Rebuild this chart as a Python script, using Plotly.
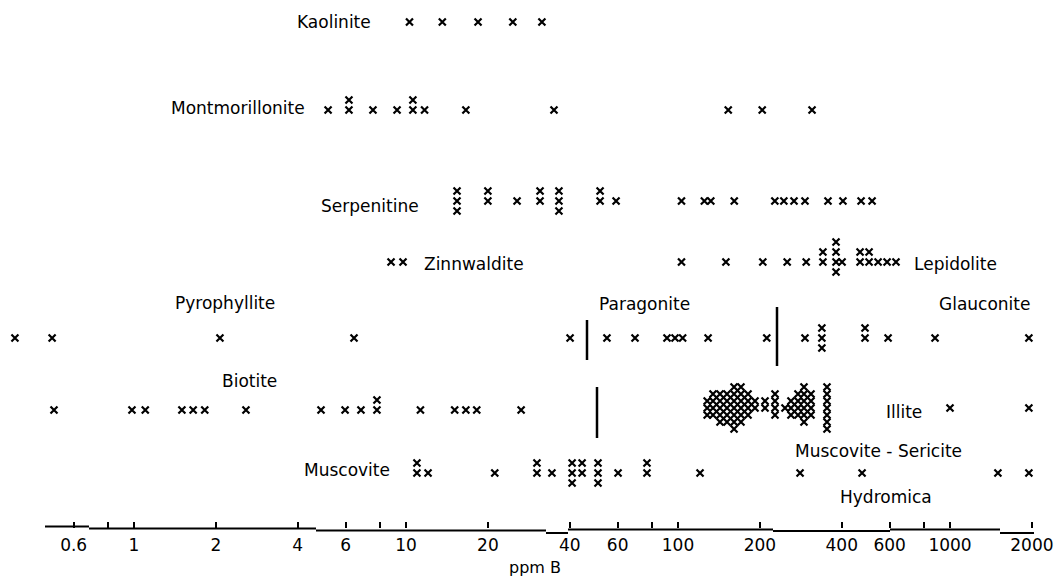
import plotly.graph_objects as go

# ---------------- data (ppm B) ----------------
kaolinite = [10.3, 13.6, 18.4, 24.7, 31.6]
montmorillonite = [5.17, 6.17, 6.17, 7.56, 9.27, 10.6, 10.6, 11.7, 16.6, 35.0, 153, 204, 311]
serpentine = [15.4, 15.4, 15.4, 20.0, 20.0, 25.6, 31.1, 31.1, 36.5, 36.5, 36.5, 51.7, 51.7,
              59.2, 103, 125, 132, 161, 227, 245, 267, 293, 356, 404, 471, 517]
zinnwaldite = [8.81, 9.75]
lepidolite = [103, 150, 205, 252, 296, 341, 341, 381, 381, 381, 381, 401, 467, 467,
              504, 504, 544, 587, 633]
pyrophyllite = [0.365, 0.50, 2.07, 6.44, 40.1]
paragonite = [54.8, 69.5, 91.1, 97.5, 104, 129, 212]
glauconite = [293, 338, 338, 338, 487, 487, 592, 881, 1950]
biotite = [0.508, 0.983, 1.10, 1.50, 1.65, 1.82, 2.58, 4.87, 5.97, 6.83, 7.82, 7.82,
           11.3, 15.1, 16.6, 18.2, 26.5]
illite = [128, 128, 128,
          134.5, 134.5, 134.5, 134.5,
          142.7, 142.7, 142.7, 142.7, 142.7,
          151.4, 151.4, 151.4, 151.4, 151.4,
          160.7, 160.7, 160.7, 160.7, 160.7, 160.7, 160.7,
          170.4, 170.4, 170.4, 170.4, 170.4, 170.4,
          180.9, 180.9, 180.9, 180.9,
          191.9, 191.9,
          208.9, 208.9,
          227.3, 227.3, 227.3, 227.3,
          247.4,
          260.2, 260.2, 260.2,
          276.1, 276.1, 276.1, 276.1,
          290.5, 290.5, 290.5, 290.5, 290.5, 290.5,
          308.3, 308.3, 308.3, 308.3,
          353, 353, 353, 353, 353, 353, 353,
          1000, 1950]
muscovite = [10.97, 10.97, 12.05, 21.2, 30.3, 30.3, 34.4, 40.8, 40.8, 40.8, 44.4, 44.4,
             50.8, 50.8, 50.8, 60.2, 76.9, 76.9, 120.5]
muscovite_sericite = [281, 475, 1500, 1950]

tick_values = [0.6, 0.8, 1, 2, 4, 6, 8, 10, 20, 40, 60, 80, 100, 200, 400, 600, 800, 1000, 2000]
tick_labels = ["0.6", "", "1", "2", "4", "6", "", "10", "20", "40", "60", "", "100", "200",
               "400", "600", "", "1000", "2000"]

# ---------------- layout (pixel based rows) ----------------
W, H = 1063, 580
PLOT_BOTTOM = 528
FONT = "DejaVu Sans"

# series -> (row base y in px from top, stack spacing px)
series = [
    (kaolinite, 22, 10),
    (montmorillonite, 110, 10),
    (serpentine, 201, 10),
    (zinnwaldite, 262, 10),
    (lepidolite, 262, 10),
    (pyrophyllite, 338, 10),
    (paragonite, 338, 10),
    (glauconite, 338, 10),
    (biotite, 410, 10),
    (illite, 408, 7),
    (muscovite, 473, 10),
    (muscovite_sericite, 473, 10),
]

STACK_ORDER = [0, -1, 1, -2, 2, -3, 3, -4, 4]

fig = go.Figure()
for values, base, spacing in series:
    seen = {}
    ys = []
    for v in values:
        k = seen.get(v, 0)
        seen[v] = k + 1
        ys.append(base + STACK_ORDER[k] * spacing)
    fig.add_trace(go.Scatter(
        x=values, y=ys, mode="markers",
        marker=dict(symbol="x-thin", size=7, color="black",
                    line=dict(color="black", width=2.2)),
        hoverinfo="x", showlegend=False,
    ))


def px(x):
    return x / W


def py(y):
    return (PLOT_BOTTOM - y) / PLOT_BOTTOM


labels = [
    ("Kaolinite", 373, 22, "right"),
    ("Montmorillonite", 307, 108, "right"),
    ("Serpenitine", 421, 206, "right"),
    ("Zinnwaldite", 422, 264, "left"),
    ("Lepidolite", 912, 264, "left"),
    ("Pyrophyllite", 173, 303, "left"),
    ("Paragonite", 597, 304, "left"),
    ("Glauconite", 937, 304, "left"),
    ("Biotite", 220, 381, "left"),
    ("Illite", 884, 412, "left"),
    ("Muscovite", 392, 470, "right"),
    ("Muscovite - Sericite", 793, 451, "left"),
    ("Hydromica", 838, 497, "left"),
]
annotations = []
for text, x, y, anchor in labels:
    annotations.append(dict(text=text, x=px(x), y=py(y), xref="paper", yref="paper",
                            xanchor=anchor, yanchor="middle", showarrow=False,
                            font=dict(family=FONT, size=17, color="black")))
annotations.append(dict(text="ppm B", x=px(535), y=py(567), xref="paper", yref="paper",
                        xanchor="center", yanchor="middle", showarrow=False,
                        font=dict(family=FONT, size=16, color="black")))

shapes = []
# stepped, hand-drawn axis line
segments = [(45, 89, 526.5), (89, 316, 528.5), (316, 546, 530.5), (546, 568, 533),
            (568, 773, 529.5), (773, 890, 531), (890, 1000, 529.5), (1000, 1034, 533)]
for x0, x1, y in segments:
    shapes.append(dict(type="line", xref="paper", yref="paper", x0=px(x0), x1=px(x1),
                       y0=py(y), y1=py(y), line=dict(color="black", width=2)))
# vertical separator bars
bars = [(587, 320, 360), (777, 307, 366), (597, 387, 438)]
for x, y0, y1 in bars:
    shapes.append(dict(type="line", xref="paper", yref="paper", x0=px(x), x1=px(x),
                       y0=py(y0), y1=py(y1), line=dict(color="black", width=2.5)))

fig.update_layout(
    width=W, height=H,
    margin=dict(l=0, r=0, t=0, b=H - PLOT_BOTTOM, pad=0),
    paper_bgcolor="white", plot_bgcolor="white",
    xaxis=dict(type="log", range=[-134 / 272, (W - 134) / 272],
               tickvals=tick_values, ticktext=tick_labels,
               ticks="inside", ticklen=6, tickwidth=1.5, tickcolor="black",
               showline=False, showgrid=False, zeroline=False,
               tickfont=dict(family=FONT, size=17, color="black"),
               ticklabelstandoff=5),
    yaxis=dict(range=[PLOT_BOTTOM, 0], visible=False, showgrid=False, zeroline=False),
    annotations=annotations,
    shapes=shapes,
)

fig.write_html("out.html")
